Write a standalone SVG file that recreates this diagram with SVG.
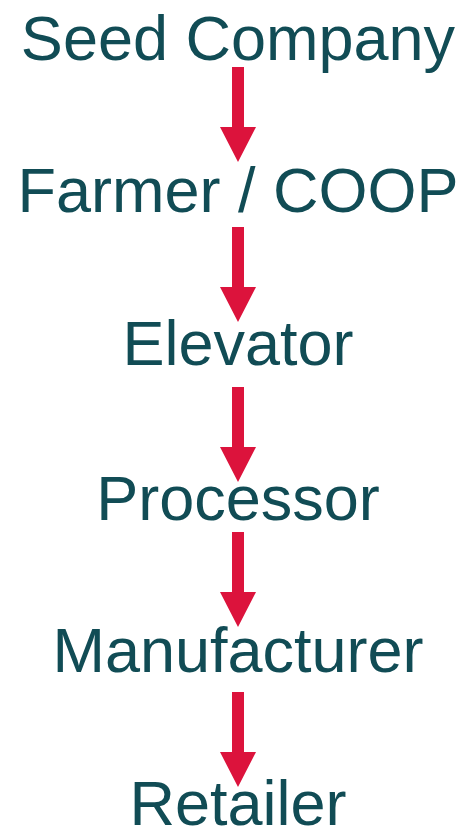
<svg xmlns="http://www.w3.org/2000/svg" width="465" height="830" viewBox="0 0 465 830">
<style>
.t{font-family:"Liberation Sans",Arial,sans-serif;font-size:63px;fill:#114C55;text-anchor:middle}
.a{fill:#DC133C}
</style>
<defs>
<path id="arr" d="M-6,0 H6 V60 H18 L0,95 L-18,60 H-6 Z"/>
</defs>
<rect width="465" height="830" fill="#ffffff"/>
<g id="connectors">
<use href="#arr" class="a" x="238" y="67"/>
<use href="#arr" class="a" x="238" y="227"/>
<use href="#arr" class="a" x="238" y="387"/>
<use href="#arr" class="a" x="238" y="532"/>
<use href="#arr" class="a" x="238" y="692"/>
</g>
<g id="seed"><text class="t" x="238" y="60">Seed Company</text></g>
<g id="farmer"><text class="t" x="238" y="212">Farmer / COOP</text></g>
<g id="elevator"><text class="t" x="238" y="365">Elevator</text></g>
<g id="processor"><text class="t" x="238" y="520">Processor</text></g>
<g id="manufacturer"><text class="t" x="238" y="672">Manufacturer</text></g>
<g id="retailer"><text class="t" x="238" y="825">Retailer</text></g>
</svg>
